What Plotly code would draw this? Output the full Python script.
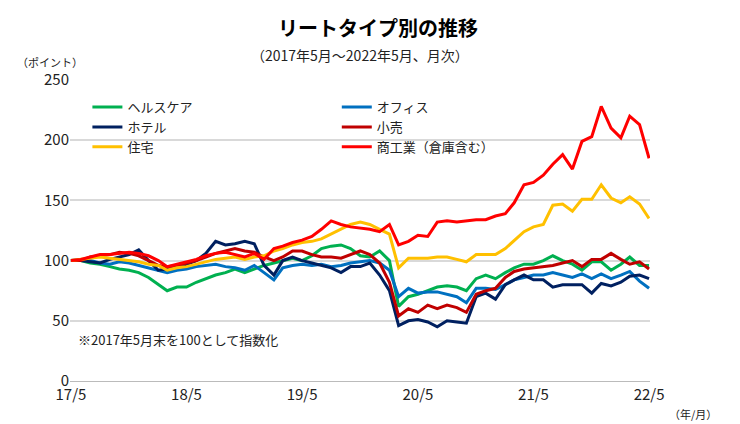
import pandas as pd
import plotly.graph_objects as go

months = pd.date_range("2017-05-01", "2022-05-01", freq="MS")

healthcare = [100,100,98,97,95,93,92,90,86,80,75,78,
              78,82,85,88,90,93,90,93,96,98,100,102,
              100,104,110,112,113,110,104,103,108,100,
              62,70,72,75,78,79,78,75,85,88,85,90,94,97,
              97,100,104,100,97,92,99,99,92,97,103,96,96]
office = [100,101,100,98,97,99,98,96,94,92,90,92,
          93,95,96,97,95,94,92,96,90,84,94,96,
          97,96,97,95,96,98,99,100,98,92,
          70,77,73,74,74,72,70,65,77,77,76,80,84,86,
          88,88,90,88,86,89,85,89,85,88,91,83,77]
hotel = [100,100,99,98,101,103,105,109,100,92,93,95,
         97,100,106,116,113,114,116,114,96,88,100,103,
         100,98,96,94,90,95,95,98,88,75,
         46,50,51,49,45,50,49,48,70,73,68,80,84,88,
         84,84,78,80,80,80,73,81,79,82,87,88,85]
retail = [100,100,103,104,105,107,106,104,100,96,95,96,
          98,100,103,106,108,110,108,107,103,100,103,108,
          108,105,103,103,102,105,108,105,98,82,
          54,60,57,63,60,63,61,57,72,75,77,86,91,93,
          94,95,96,98,100,95,101,101,106,101,97,99,93]
residential = [100,101,102,103,102,101,100,99,97,96,92,94,
               95,97,99,101,102,103,101,103,104,108,110,113,
               115,116,118,122,126,130,132,130,126,122,
               94,102,102,102,103,103,101,99,105,105,105,110,117,124,
               128,130,146,147,141,151,151,163,152,148,153,147,135]
industrial = [100,101,103,105,105,106,107,106,104,100,95,97,
              99,101,104,106,107,105,103,106,101,110,112,115,
              117,120,126,133,130,128,127,126,124,130,
              113,116,121,120,132,133,132,133,134,134,137,139,148,163,
              165,171,180,188,176,199,203,228,210,202,220,213,185]

series = [
    ("ヘルスケア", healthcare, "#00B050"),
    ("オフィス", office, "#0070C0"),
    ("ホテル", hotel, "#002060"),
    ("小売", retail, "#C00000"),
    ("住宅", residential, "#FFC000"),
    ("商工業（倉庫含む）", industrial, "#FF0000"),
]

tick_dates = months[::12]
tick_text = ["17/5", "18/5", "19/5", "20/5", "21/5", "22/5"]

fig = go.Figure()
for name, vals, color in series:
    fig.add_trace(go.Scatter(x=months, y=vals, name=name, mode="lines",
                             line=dict(color=color, width=3)))

font = "Noto Sans CJK JP"
fig.update_layout(
    width=740, height=424,
    margin=dict(l=62, r=98, t=72, b=51),
    plot_bgcolor="white", paper_bgcolor="white",
    font=dict(family=font, size=14, color="#222"),
    title=dict(text="<b>リートタイプ別の推移</b>", x=0.5, xanchor="center",
               y=0.95, yanchor="middle", font=dict(size=20, color="black")),
    legend=dict(orientation="h", x=0.03, y=0.96, xanchor="left", yanchor="top",
                entrywidth=0.43, entrywidthmode="fraction",
                bgcolor="rgba(0,0,0,0)", font=dict(size=13, color="#222"),
                tracegroupgap=0),
    xaxis=dict(tickvals=tick_dates, ticktext=tick_text, showgrid=False,
               range=[months[0] - pd.Timedelta(days=3), months[-1] + pd.Timedelta(days=3)],
               showline=True, linecolor="#bbb", ticks="", tickfont=dict(size=15)),
    yaxis=dict(range=[0, 250], dtick=50, gridcolor="#d9d9d9", gridwidth=1.5,
               zeroline=False, showline=False, tickfont=dict(size=15)),
    showlegend=True,
)
fig.add_annotation(text="（2017年5月～2022年5月、月次）", xref="paper", yref="paper",
                   x=0.5, y=1.083, yanchor="middle", showarrow=False, font=dict(size=14))
fig.add_annotation(text="（ポイント）", xref="paper", yref="paper", x=-0.095, y=1.06,
                   xanchor="left", yanchor="middle", showarrow=False, font=dict(size=11))
fig.add_annotation(text="（年/月）", xref="paper", yref="paper", x=1.03, y=-0.11,
                   xanchor="left", yanchor="middle", showarrow=False, font=dict(size=11))
fig.add_annotation(text="※2017年5月末を100として指数化", xref="paper", yref="paper",
                   x=0.01, y=0.1, xanchor="left", showarrow=False, font=dict(size=13))

fig.write_html("out.html")
